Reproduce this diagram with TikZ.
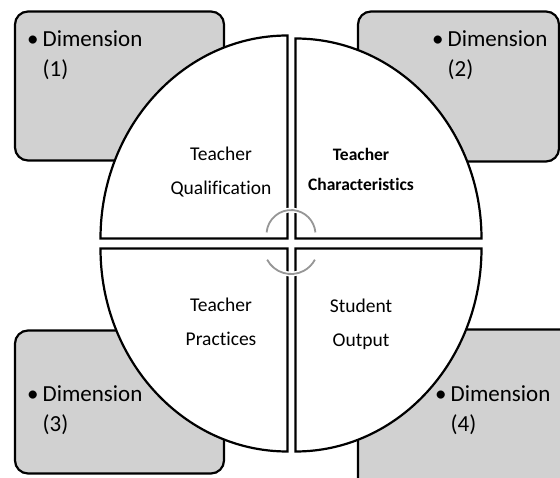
\documentclass[tikz,border=0pt]{standalone}
\usepackage{fontspec}
\setmainfont[Ligatures=NoCommon]{Carlito}
\definecolor{boxgray}{RGB}{209,209,209}
\definecolor{arcgray}{RGB}{150,150,150}

\begin{document}
\begin{tikzpicture}[x=1pt, y=1pt,
  dimbox/.style={draw=black, fill=boxgray, line width=2.2pt, rounded corners=13pt},
  quarter/.style={draw=black, fill=white, line width=2.2pt},
  turn/.style={draw=white, double=arcgray, double distance=1.8pt, line width=1.5pt},
  dimtext/.style={inner sep=0pt, anchor=base west, font=\fontsize{23}{30}\selectfont},
  qtext/.style={align=center, inner sep=0pt, font=\fontsize{19.5}{34}\selectfont}]
\useasboundingbox (0,0) rectangle (560,477);
\draw[dimbox] (15,316.5) rectangle (224,465.5);
\draw[dimbox] (358,315.5) rectangle (559,465.5);
\draw[dimbox] (15,3.5) rectangle (224,146.5);
\draw[dimbox] (358,-20) rectangle (600,147.5);
\draw[quarter] (287.5,238.5) -- (100.5,238.5) arc[start angle=180, end angle=90, x radius=187pt, y radius=203pt] -- cycle;
\draw[quarter] (295.5,238.5) -- (295.5,438.5) arc[start angle=90, end angle=0, x radius=186pt, y radius=200pt] -- cycle;
\draw[quarter] (287.5,228.5) -- (100.5,228.5) arc[start angle=180, end angle=270, x radius=187pt, y radius=203pt] -- cycle;
\draw[quarter] (295.5,228.5) -- (481.5,228.5) arc[start angle=0, end angle=-90, x radius=186pt, y radius=203pt] -- cycle;
\draw[turn] (266.6,244.6) arc[start angle=175, end angle=5, radius=24.5pt];
\draw[turn] (267.2,217.3) arc[start angle=208, end angle=332, radius=27pt];
\node[dimtext] (dimA) at (27,430) {\begin{tabular}[t]{@{}l@{\hspace{4pt}}l@{}}\textbullet & Dimension\\ & (1)\end{tabular}};
\node[dimtext] (dimB) at (432,430) {\begin{tabular}[t]{@{}l@{\hspace{4pt}}l@{}}\textbullet & Dimension\\ & (2)\end{tabular}};
\node[dimtext] (dimC) at (27,75) {\begin{tabular}[t]{@{}l@{\hspace{4pt}}l@{}}\textbullet & Dimension\\ & (3)\end{tabular}};
\node[dimtext] (dimD) at (435,75) {\begin{tabular}[t]{@{}l@{\hspace{4pt}}l@{}}\textbullet & Dimension\\ & (4)\end{tabular}};
\node[qtext] (qual) at (221,305) {Teacher\\Qualification};
\node[qtext, font=\bfseries\fontsize{17.5}{30}\selectfont] (chars) at (361,308) {Teacher\\Characteristics};
\node[qtext] (prac) at (221,155) {Teacher\\Practices};
\node[qtext] (stud) at (361,153) {Student\\Output};
\end{tikzpicture}
\end{document}
